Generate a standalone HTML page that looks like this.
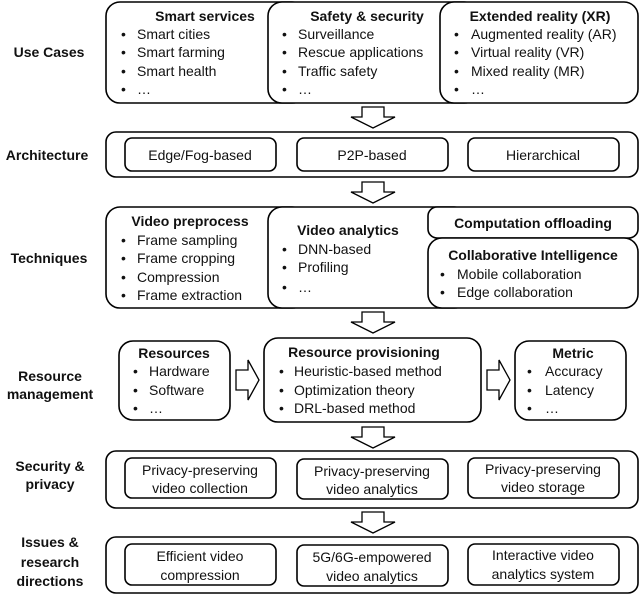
<!DOCTYPE html>
<html><head><meta charset="utf-8"><style>
html,body{margin:0;padding:0;background:#fff}
svg{display:block}
text{font-family:"Liberation Sans",Arial,sans-serif;font-size:14px;fill:#111}
.b{font-weight:bold}
.m{text-anchor:middle}
rect{fill:#fff;stroke:#000;stroke-width:1.6}
.ar{fill:#fff;stroke:#000;stroke-width:1.3}
</style></head><body>
<svg width="640" height="595" viewBox="0 0 640 595" xmlns="http://www.w3.org/2000/svg">
<!-- left labels -->
<text class="b m" x="49" y="57">Use Cases</text>
<text class="b m" x="47" y="160">Architecture</text>
<text class="b m" x="49" y="263">Techniques</text>
<text class="b m" x="50" y="381">Resource</text>
<text class="b m" x="50" y="399">management</text>
<text class="b m" x="50" y="471">Security &amp;</text>
<text class="b m" x="50" y="489">privacy</text>
<text class="b m" x="50" y="547">Issues &amp;</text>
<text class="b m" x="50" y="567">research</text>
<text class="b m" x="50" y="586">directions</text>

<!-- Use cases -->
<rect x="106" y="2" width="200" height="101" rx="14"/>
<rect x="268" y="2" width="210" height="101" rx="14"/>
<rect x="440" y="2" width="198" height="101" rx="14"/>
<text class="b m" x="205" y="21">Smart services</text>
<text x="121" y="39">•</text><text x="137" y="39">Smart cities</text>
<text x="121" y="57">•</text><text x="137" y="57">Smart farming</text>
<text x="121" y="76">•</text><text x="137" y="76">Smart health</text>
<text x="121" y="94">•</text><text x="137" y="94">…</text>
<text class="b m" x="367" y="21">Safety &amp; security</text>
<text x="282" y="39">•</text><text x="298" y="39">Surveillance</text>
<text x="282" y="57">•</text><text x="298" y="57">Rescue applications</text>
<text x="282" y="76">•</text><text x="298" y="76">Traffic safety</text>
<text x="282" y="94">•</text><text x="298" y="94">…</text>
<text class="b m" x="540" y="21">Extended reality (XR)</text>
<text x="454" y="39">•</text><text x="471" y="39">Augmented reality (AR)</text>
<text x="454" y="57">•</text><text x="471" y="57">Virtual reality (VR)</text>
<text x="454" y="76">•</text><text x="471" y="76">Mixed reality (MR)</text>
<text x="454" y="94">•</text><text x="471" y="94">…</text>

<!-- arrows down -->
<polygon class="ar" points="362,107 384,107 384,117 395,117 373,128 351,117 362,117"/>
<polygon class="ar" points="362,182 384,182 384,192 395,192 373,203 351,192 362,192"/>
<polygon class="ar" points="362,312 384,312 384,322 395,322 373,333 351,322 362,322"/>
<polygon class="ar" points="362,427 384,427 384,437 395,437 373,448 351,437 362,437"/>
<polygon class="ar" points="362,512 384,512 384,522 395,522 373,533 351,522 362,522"/>

<!-- Architecture -->
<rect x="106" y="132" width="532" height="45" rx="10"/>
<rect x="125" y="138" width="151" height="33" rx="7"/>
<rect x="297" y="138" width="151" height="33" rx="7"/>
<rect x="468" y="138" width="151" height="33" rx="7"/>
<text class="m" x="200" y="160">Edge/Fog-based</text>
<text class="m" x="372" y="160">P2P-based</text>
<text class="m" x="543" y="160">Hierarchical</text>

<!-- Techniques -->
<rect x="106" y="207" width="200" height="101" rx="14"/>
<rect x="268" y="207" width="200" height="101" rx="14"/>
<rect x="428" y="207" width="210" height="31" rx="9"/>
<rect x="428" y="238" width="210" height="70" rx="14"/>
<text class="b m" x="190" y="226">Video preprocess</text>
<text x="121" y="245">•</text><text x="137" y="245">Frame sampling</text>
<text x="121" y="263">•</text><text x="137" y="263">Frame cropping</text>
<text x="121" y="282">•</text><text x="137" y="282">Compression</text>
<text x="121" y="300">•</text><text x="137" y="300">Frame extraction</text>
<text class="b m" x="348" y="235">Video analytics</text>
<text x="282" y="254">•</text><text x="298" y="254">DNN-based</text>
<text x="282" y="272">•</text><text x="298" y="272">Profiling</text>
<text x="282" y="292">•</text><text x="298" y="292">…</text>
<text class="b m" x="533" y="228">Computation offloading</text>
<text class="b m" x="533" y="260">Collaborative Intelligence</text>
<text x="440" y="279">•</text><text x="457" y="279">Mobile collaboration</text>
<text x="440" y="297">•</text><text x="457" y="297">Edge collaboration</text>

<!-- Resource management -->
<rect x="119" y="341" width="111" height="79" rx="14"/>
<rect x="264" y="338" width="217" height="84" rx="14"/>
<rect x="515" y="341" width="111" height="79" rx="14"/>
<polygon class="ar" points="236,370 248,370 248,360 259,380 248,400 248,390 236,390"/>
<polygon class="ar" points="487,370 499,370 499,360 510,380 499,400 499,390 487,390"/>
<text class="b m" x="174" y="358">Resources</text>
<text x="133" y="376">•</text><text x="149" y="376">Hardware</text>
<text x="133" y="395">•</text><text x="149" y="395">Software</text>
<text x="133" y="413">•</text><text x="149" y="413">…</text>
<text class="b m" x="364" y="357">Resource provisioning</text>
<text x="279" y="376">•</text><text x="294" y="376">Heuristic-based method</text>
<text x="279" y="395">•</text><text x="294" y="395">Optimization theory</text>
<text x="279" y="413">•</text><text x="294" y="413">DRL-based method</text>
<text class="b m" x="573" y="358">Metric</text>
<text x="527" y="376">•</text><text x="545" y="376">Accuracy</text>
<text x="527" y="395">•</text><text x="545" y="395">Latency</text>
<text x="527" y="413">•</text><text x="545" y="413">…</text>

<!-- Security -->
<rect x="106" y="451" width="532" height="57" rx="10"/>
<rect x="125" y="458" width="151" height="40" rx="7"/>
<rect x="297" y="459" width="151" height="40" rx="7"/>
<rect x="468" y="458" width="151" height="40" rx="7"/>
<text class="m" x="200" y="475">Privacy-preserving</text><text class="m" x="200" y="493">video collection</text>
<text class="m" x="372" y="476">Privacy-preserving</text><text class="m" x="372" y="494">video analytics</text>
<text class="m" x="543" y="474">Privacy-preserving</text><text class="m" x="543" y="492">video storage</text>

<!-- Issues -->
<rect x="106" y="537" width="532" height="56" rx="10"/>
<rect x="125" y="544" width="151" height="41" rx="7"/>
<rect x="297" y="545" width="151" height="41" rx="7"/>
<rect x="468" y="544" width="151" height="41" rx="7"/>
<text class="m" x="200" y="561">Efficient video</text><text class="m" x="200" y="580">compression</text>
<text class="m" x="372" y="562">5G/6G-empowered</text><text class="m" x="372" y="581">video analytics</text>
<text class="m" x="543" y="560">Interactive video</text><text class="m" x="543" y="579">analytics system</text>
</svg>
</body></html>
